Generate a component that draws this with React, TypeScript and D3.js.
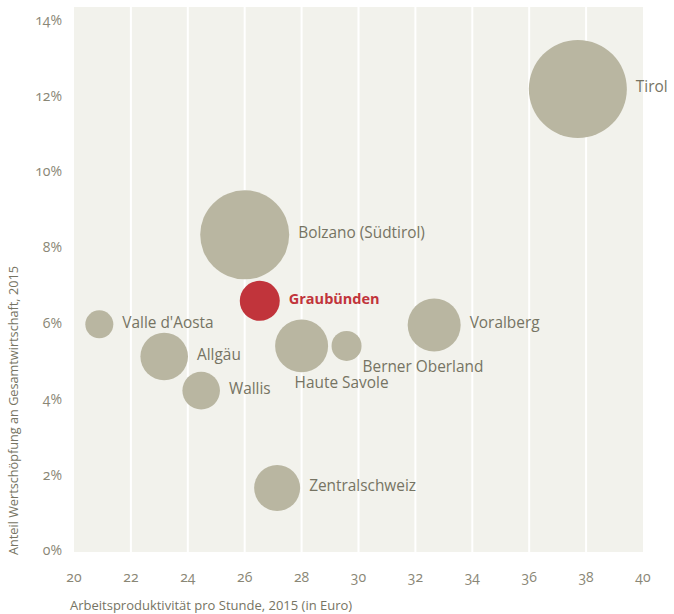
import React from "react";
import * as d3 from "d3";

// Regionen: Arbeitsproduktivität (Euro/h), Anteil Wertschöpfung (%), Grösse (Blasenfläche)
const regions = ["Tirol", "Bolzano (Südtirol)", "Graubünden", "Valle d'Aosta", "Allgäu", "Wallis", "Haute Savole", "Berner Oberland", "Voralberg", "Zentralschweiz"];
const productivity = [37.71, 26.0, 26.53, 20.89, 23.17, 24.47, 28.0, 29.58, 32.66, 27.14];
const share = [12.18, 8.33, 6.59, 5.97, 5.12, 4.22, 5.4, 5.4, 5.95, 1.65];
const size = [2401, 1980, 400, 196, 566, 353, 702, 225, 702, 529];
const labelPlacement = ["right", "right", "right", "right", "right", "right", "below", "belowRight", "right", "right"];
const highlight = "Graubünden";

const xTicks = [20, 22, 24, 26, 28, 30, 32, 34, 36, 38, 40];
const yTicks = [0, 2, 4, 6, 8, 10, 12, 14];
const xTitle = "Arbeitsproduktivität pro Stunde, 2015 (in Euro)";
const yTitle = "Anteil Wertschöpfung an Gesamtwirtschaft, 2015";

const width = 674;
const height = 614;
const plot = { left: 74, right: 643, top: 7, bottom: 552 };

const font = "'Open Sans', Lato, sans-serif";
const bg = "#f2f2ec";
const bubbleColor = "#b9b6a1";
const red = "#c1343b";
const textColor = "#767463";
const tickColor = "#8a8776";

export default function App() {
  const x = d3.scaleLinear().domain([20, 40]).range([plot.left, plot.right]);
  const y = d3.scaleLinear().domain([0, 14]).range([550.5, 20]);
  const r = d3.scaleSqrt().domain([0, 2401]).range([0, 49]);

  const data = regions.map((name, i) => ({
    name,
    px: productivity[i],
    py: share[i],
    s: size[i],
    place: labelPlacement[i],
  }));
  const sorted = [...data].sort((a, b) => b.s - a.s);

  return (
    <svg width={width} height={height} style={{ position: "absolute", left: 0, top: 0, fontFamily: font }}>
      <rect x={plot.left} y={plot.top} width={plot.right - plot.left} height={plot.bottom - plot.top} fill={bg} />
      {xTicks.slice(1, -1).map((t) => (
        <line key={t} x1={x(t)} x2={x(t)} y1={plot.top} y2={plot.bottom} stroke="#fff" strokeWidth={2} />
      ))}

      {sorted.map((d) => (
        <circle key={d.name} cx={x(d.px)} cy={y(d.py)} r={r(d.s)} fill={d.name === highlight ? red : bubbleColor} />
      ))}

      {data.map((d) => {
        const cx = x(d.px);
        const cy = y(d.py);
        const rr = r(d.s);
        let lx = cx + rr + 9;
        let ly = cy - 2;
        if (d.place === "below") {
          lx = cx - 7;
          ly = cy + 37;
        } else if (d.place === "belowRight") {
          lx = cx + 16;
          ly = cy + 21;
        }
        const hi = d.name === highlight;
        return (
          <text
            key={d.name}
            x={lx}
            y={ly}
            dy="0.35em"
            fontSize={hi ? 14.5 : 15.4}
            fontWeight={hi ? 700 : 400}
            fill={hi ? red : textColor}
          >
            {d.name}
          </text>
        );
      })}

      {xTicks.map((t) => (
        <text key={t} x={x(t)} y={577} dy="0.35em" textAnchor="middle" fontSize={14} fill={tickColor} style={{ fontVariantNumeric: "oldstyle-nums" }}>
          {t}
        </text>
      ))}
      {yTicks.map((t) => (
        <text key={t} x={62} y={y(t)} dy="0.35em" textAnchor="end" fontSize={14} fill={tickColor} style={{ fontVariantNumeric: "oldstyle-nums" }}>
          {t}%
        </text>
      ))}

      <text x={70} y={610} fontSize={13} fill={textColor}>
        {xTitle}
      </text>
      <text transform={`translate(18, 555) rotate(-90)`} fontSize={12.7} fill={textColor}>
        {yTitle}
      </text>
    </svg>
  );
}
